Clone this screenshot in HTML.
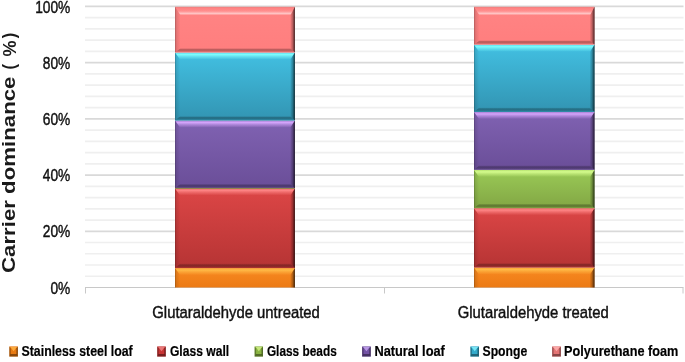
<!DOCTYPE html>
<html><head><meta charset="utf-8"><style>
html,body{margin:0;padding:0;background:#fff;}
svg{display:block;will-change:transform;font-family:"Liberation Sans",sans-serif;}
</style></head><body>
<svg width="685" height="362" viewBox="0 0 685 362">
<defs><linearGradient id="g0" x1="0" y1="0" x2="0" y2="1"><stop offset="0" stop-color="#f88a22"/><stop offset="1" stop-color="#ec7a14"/></linearGradient><linearGradient id="h0" x1="0" y1="268.1" x2="0" y2="275.1" gradientUnits="userSpaceOnUse"><stop offset="0" stop-color="#ffbc48" stop-opacity="0.45"/><stop offset="0.28" stop-color="#ffbc48" stop-opacity="0.95"/><stop offset="0.55" stop-color="#ffbc48" stop-opacity="0.55"/><stop offset="1" stop-color="#ffbc48" stop-opacity="0"/></linearGradient><linearGradient id="l0" x1="175" y1="0" x2="180.0" y2="0" gradientUnits="userSpaceOnUse"><stop offset="0" stop-color="#000" stop-opacity="0.3"/><stop offset="0.3" stop-color="#000" stop-opacity="0.1"/><stop offset="1" stop-color="#000" stop-opacity="0.0"/></linearGradient><linearGradient id="r0" x1="290.4" y1="0" x2="294.9" y2="0" gradientUnits="userSpaceOnUse"><stop offset="0" stop-color="#000" stop-opacity="0.05"/><stop offset="0.45" stop-color="#000" stop-opacity="0.25"/><stop offset="0.8" stop-color="#000" stop-opacity="0.55"/><stop offset="1" stop-color="#000" stop-opacity="0.8"/></linearGradient><linearGradient id="b0" x1="0" y1="287.49" x2="0" y2="287.5" gradientUnits="userSpaceOnUse"><stop offset="0" stop-color="#000" stop-opacity="0.08"/><stop offset="0.3" stop-color="#000" stop-opacity="0.27"/><stop offset="0.6" stop-color="#000" stop-opacity="0.25"/><stop offset="0.8" stop-color="#000" stop-opacity="0.1"/><stop offset="1" stop-color="#000" stop-opacity="0.04"/></linearGradient><linearGradient id="g1" x1="0" y1="0" x2="0" y2="1"><stop offset="0" stop-color="#dc4646"/><stop offset="1" stop-color="#b63434"/></linearGradient><linearGradient id="h1" x1="0" y1="188.4" x2="0" y2="195.4" gradientUnits="userSpaceOnUse"><stop offset="0" stop-color="#ff8888" stop-opacity="0.45"/><stop offset="0.28" stop-color="#ff8888" stop-opacity="0.95"/><stop offset="0.55" stop-color="#ff8888" stop-opacity="0.55"/><stop offset="1" stop-color="#ff8888" stop-opacity="0"/></linearGradient><linearGradient id="l1" x1="175" y1="0" x2="180.0" y2="0" gradientUnits="userSpaceOnUse"><stop offset="0" stop-color="#000" stop-opacity="0.3"/><stop offset="0.3" stop-color="#000" stop-opacity="0.1"/><stop offset="1" stop-color="#000" stop-opacity="0.0"/></linearGradient><linearGradient id="r1" x1="290.4" y1="0" x2="294.9" y2="0" gradientUnits="userSpaceOnUse"><stop offset="0" stop-color="#000" stop-opacity="0.05"/><stop offset="0.45" stop-color="#000" stop-opacity="0.25"/><stop offset="0.8" stop-color="#000" stop-opacity="0.55"/><stop offset="1" stop-color="#000" stop-opacity="0.8"/></linearGradient><linearGradient id="b1" x1="0" y1="263.8" x2="0" y2="268.1" gradientUnits="userSpaceOnUse"><stop offset="0" stop-color="#000" stop-opacity="0.08"/><stop offset="0.3" stop-color="#000" stop-opacity="0.27"/><stop offset="0.6" stop-color="#000" stop-opacity="0.25"/><stop offset="0.8" stop-color="#000" stop-opacity="0.1"/><stop offset="1" stop-color="#000" stop-opacity="0.04"/></linearGradient><linearGradient id="g2" x1="0" y1="0" x2="0" y2="1"><stop offset="0" stop-color="#8062b2"/><stop offset="1" stop-color="#6a4e98"/></linearGradient><linearGradient id="h2" x1="0" y1="120.6" x2="0" y2="127.6" gradientUnits="userSpaceOnUse"><stop offset="0" stop-color="#d8a8ff" stop-opacity="0.45"/><stop offset="0.28" stop-color="#d8a8ff" stop-opacity="0.95"/><stop offset="0.55" stop-color="#d8a8ff" stop-opacity="0.55"/><stop offset="1" stop-color="#d8a8ff" stop-opacity="0"/></linearGradient><linearGradient id="l2" x1="175" y1="0" x2="180.0" y2="0" gradientUnits="userSpaceOnUse"><stop offset="0" stop-color="#000" stop-opacity="0.3"/><stop offset="0.3" stop-color="#000" stop-opacity="0.1"/><stop offset="1" stop-color="#000" stop-opacity="0.0"/></linearGradient><linearGradient id="r2" x1="290.4" y1="0" x2="294.9" y2="0" gradientUnits="userSpaceOnUse"><stop offset="0" stop-color="#000" stop-opacity="0.05"/><stop offset="0.45" stop-color="#000" stop-opacity="0.25"/><stop offset="0.8" stop-color="#000" stop-opacity="0.55"/><stop offset="1" stop-color="#000" stop-opacity="0.8"/></linearGradient><linearGradient id="b2" x1="0" y1="184.1" x2="0" y2="188.4" gradientUnits="userSpaceOnUse"><stop offset="0" stop-color="#000" stop-opacity="0.08"/><stop offset="0.3" stop-color="#000" stop-opacity="0.27"/><stop offset="0.6" stop-color="#000" stop-opacity="0.25"/><stop offset="0.8" stop-color="#000" stop-opacity="0.1"/><stop offset="1" stop-color="#000" stop-opacity="0.04"/></linearGradient><linearGradient id="g3" x1="0" y1="0" x2="0" y2="1"><stop offset="0" stop-color="#42c0e2"/><stop offset="1" stop-color="#3294b2"/></linearGradient><linearGradient id="h3" x1="0" y1="52.6" x2="0" y2="59.6" gradientUnits="userSpaceOnUse"><stop offset="0" stop-color="#80ffff" stop-opacity="0.45"/><stop offset="0.28" stop-color="#80ffff" stop-opacity="0.95"/><stop offset="0.55" stop-color="#80ffff" stop-opacity="0.55"/><stop offset="1" stop-color="#80ffff" stop-opacity="0"/></linearGradient><linearGradient id="l3" x1="175" y1="0" x2="180.0" y2="0" gradientUnits="userSpaceOnUse"><stop offset="0" stop-color="#000" stop-opacity="0.3"/><stop offset="0.3" stop-color="#000" stop-opacity="0.1"/><stop offset="1" stop-color="#000" stop-opacity="0.0"/></linearGradient><linearGradient id="r3" x1="290.4" y1="0" x2="294.9" y2="0" gradientUnits="userSpaceOnUse"><stop offset="0" stop-color="#000" stop-opacity="0.05"/><stop offset="0.45" stop-color="#000" stop-opacity="0.25"/><stop offset="0.8" stop-color="#000" stop-opacity="0.55"/><stop offset="1" stop-color="#000" stop-opacity="0.8"/></linearGradient><linearGradient id="b3" x1="0" y1="116.3" x2="0" y2="120.6" gradientUnits="userSpaceOnUse"><stop offset="0" stop-color="#000" stop-opacity="0.08"/><stop offset="0.3" stop-color="#000" stop-opacity="0.27"/><stop offset="0.6" stop-color="#000" stop-opacity="0.25"/><stop offset="0.8" stop-color="#000" stop-opacity="0.1"/><stop offset="1" stop-color="#000" stop-opacity="0.04"/></linearGradient><linearGradient id="g4" x1="0" y1="0" x2="0" y2="1"><stop offset="0" stop-color="#ff8484"/><stop offset="1" stop-color="#ff7e7e"/></linearGradient><linearGradient id="h4" x1="0" y1="6.8" x2="0" y2="15.3" gradientUnits="userSpaceOnUse"><stop offset="0" stop-color="#000" stop-opacity="0.12"/><stop offset="0.2" stop-color="#ffcccc" stop-opacity="0"/><stop offset="0.5" stop-color="#ffcccc" stop-opacity="0.15"/><stop offset="0.8" stop-color="#ffcccc" stop-opacity="0.9"/><stop offset="1" stop-color="#ffcccc" stop-opacity="0"/></linearGradient><linearGradient id="l4" x1="175" y1="0" x2="180.5" y2="0" gradientUnits="userSpaceOnUse"><stop offset="0" stop-color="#000" stop-opacity="0.3"/><stop offset="0.3" stop-color="#000" stop-opacity="0.1"/><stop offset="1" stop-color="#000" stop-opacity="0.0"/></linearGradient><linearGradient id="r4" x1="290.4" y1="0" x2="294.9" y2="0" gradientUnits="userSpaceOnUse"><stop offset="0" stop-color="#000" stop-opacity="0.05"/><stop offset="0.45" stop-color="#000" stop-opacity="0.25"/><stop offset="0.8" stop-color="#000" stop-opacity="0.55"/><stop offset="1" stop-color="#000" stop-opacity="0.8"/></linearGradient><linearGradient id="b4" x1="0" y1="48.300000000000004" x2="0" y2="52.6" gradientUnits="userSpaceOnUse"><stop offset="0" stop-color="#000" stop-opacity="0.08"/><stop offset="0.3" stop-color="#000" stop-opacity="0.27"/><stop offset="0.6" stop-color="#000" stop-opacity="0.25"/><stop offset="0.8" stop-color="#000" stop-opacity="0.1"/><stop offset="1" stop-color="#000" stop-opacity="0.04"/></linearGradient><linearGradient id="g5" x1="0" y1="0" x2="0" y2="1"><stop offset="0" stop-color="#f88a22"/><stop offset="1" stop-color="#ec7a14"/></linearGradient><linearGradient id="h5" x1="0" y1="267.6" x2="0" y2="274.6" gradientUnits="userSpaceOnUse"><stop offset="0" stop-color="#ffbc48" stop-opacity="0.45"/><stop offset="0.28" stop-color="#ffbc48" stop-opacity="0.95"/><stop offset="0.55" stop-color="#ffbc48" stop-opacity="0.55"/><stop offset="1" stop-color="#ffbc48" stop-opacity="0"/></linearGradient><linearGradient id="l5" x1="474" y1="0" x2="479.0" y2="0" gradientUnits="userSpaceOnUse"><stop offset="0" stop-color="#000" stop-opacity="0.3"/><stop offset="0.3" stop-color="#000" stop-opacity="0.1"/><stop offset="1" stop-color="#000" stop-opacity="0.0"/></linearGradient><linearGradient id="r5" x1="590.0" y1="0" x2="594.5" y2="0" gradientUnits="userSpaceOnUse"><stop offset="0" stop-color="#000" stop-opacity="0.05"/><stop offset="0.45" stop-color="#000" stop-opacity="0.25"/><stop offset="0.8" stop-color="#000" stop-opacity="0.55"/><stop offset="1" stop-color="#000" stop-opacity="0.8"/></linearGradient><linearGradient id="b5" x1="0" y1="287.49" x2="0" y2="287.5" gradientUnits="userSpaceOnUse"><stop offset="0" stop-color="#000" stop-opacity="0.08"/><stop offset="0.3" stop-color="#000" stop-opacity="0.27"/><stop offset="0.6" stop-color="#000" stop-opacity="0.25"/><stop offset="0.8" stop-color="#000" stop-opacity="0.1"/><stop offset="1" stop-color="#000" stop-opacity="0.04"/></linearGradient><linearGradient id="g6" x1="0" y1="0" x2="0" y2="1"><stop offset="0" stop-color="#dc4646"/><stop offset="1" stop-color="#b63434"/></linearGradient><linearGradient id="h6" x1="0" y1="208.2" x2="0" y2="215.2" gradientUnits="userSpaceOnUse"><stop offset="0" stop-color="#ff8888" stop-opacity="0.45"/><stop offset="0.28" stop-color="#ff8888" stop-opacity="0.95"/><stop offset="0.55" stop-color="#ff8888" stop-opacity="0.55"/><stop offset="1" stop-color="#ff8888" stop-opacity="0"/></linearGradient><linearGradient id="l6" x1="474" y1="0" x2="479.0" y2="0" gradientUnits="userSpaceOnUse"><stop offset="0" stop-color="#000" stop-opacity="0.3"/><stop offset="0.3" stop-color="#000" stop-opacity="0.1"/><stop offset="1" stop-color="#000" stop-opacity="0.0"/></linearGradient><linearGradient id="r6" x1="590.0" y1="0" x2="594.5" y2="0" gradientUnits="userSpaceOnUse"><stop offset="0" stop-color="#000" stop-opacity="0.05"/><stop offset="0.45" stop-color="#000" stop-opacity="0.25"/><stop offset="0.8" stop-color="#000" stop-opacity="0.55"/><stop offset="1" stop-color="#000" stop-opacity="0.8"/></linearGradient><linearGradient id="b6" x1="0" y1="263.3" x2="0" y2="267.6" gradientUnits="userSpaceOnUse"><stop offset="0" stop-color="#000" stop-opacity="0.08"/><stop offset="0.3" stop-color="#000" stop-opacity="0.27"/><stop offset="0.6" stop-color="#000" stop-opacity="0.25"/><stop offset="0.8" stop-color="#000" stop-opacity="0.1"/><stop offset="1" stop-color="#000" stop-opacity="0.04"/></linearGradient><linearGradient id="g7" x1="0" y1="0" x2="0" y2="1"><stop offset="0" stop-color="#9aca56"/><stop offset="1" stop-color="#82a644"/></linearGradient><linearGradient id="h7" x1="0" y1="169.9" x2="0" y2="176.9" gradientUnits="userSpaceOnUse"><stop offset="0" stop-color="#d8ff90" stop-opacity="0.45"/><stop offset="0.28" stop-color="#d8ff90" stop-opacity="0.95"/><stop offset="0.55" stop-color="#d8ff90" stop-opacity="0.55"/><stop offset="1" stop-color="#d8ff90" stop-opacity="0"/></linearGradient><linearGradient id="l7" x1="474" y1="0" x2="479.0" y2="0" gradientUnits="userSpaceOnUse"><stop offset="0" stop-color="#000" stop-opacity="0.3"/><stop offset="0.3" stop-color="#000" stop-opacity="0.1"/><stop offset="1" stop-color="#000" stop-opacity="0.0"/></linearGradient><linearGradient id="r7" x1="590.0" y1="0" x2="594.5" y2="0" gradientUnits="userSpaceOnUse"><stop offset="0" stop-color="#000" stop-opacity="0.05"/><stop offset="0.45" stop-color="#000" stop-opacity="0.25"/><stop offset="0.8" stop-color="#000" stop-opacity="0.55"/><stop offset="1" stop-color="#000" stop-opacity="0.8"/></linearGradient><linearGradient id="b7" x1="0" y1="203.89999999999998" x2="0" y2="208.2" gradientUnits="userSpaceOnUse"><stop offset="0" stop-color="#000" stop-opacity="0.08"/><stop offset="0.3" stop-color="#000" stop-opacity="0.27"/><stop offset="0.6" stop-color="#000" stop-opacity="0.25"/><stop offset="0.8" stop-color="#000" stop-opacity="0.1"/><stop offset="1" stop-color="#000" stop-opacity="0.04"/></linearGradient><linearGradient id="g8" x1="0" y1="0" x2="0" y2="1"><stop offset="0" stop-color="#8062b2"/><stop offset="1" stop-color="#6a4e98"/></linearGradient><linearGradient id="h8" x1="0" y1="112.0" x2="0" y2="119.0" gradientUnits="userSpaceOnUse"><stop offset="0" stop-color="#d8a8ff" stop-opacity="0.45"/><stop offset="0.28" stop-color="#d8a8ff" stop-opacity="0.95"/><stop offset="0.55" stop-color="#d8a8ff" stop-opacity="0.55"/><stop offset="1" stop-color="#d8a8ff" stop-opacity="0"/></linearGradient><linearGradient id="l8" x1="474" y1="0" x2="479.0" y2="0" gradientUnits="userSpaceOnUse"><stop offset="0" stop-color="#000" stop-opacity="0.3"/><stop offset="0.3" stop-color="#000" stop-opacity="0.1"/><stop offset="1" stop-color="#000" stop-opacity="0.0"/></linearGradient><linearGradient id="r8" x1="590.0" y1="0" x2="594.5" y2="0" gradientUnits="userSpaceOnUse"><stop offset="0" stop-color="#000" stop-opacity="0.05"/><stop offset="0.45" stop-color="#000" stop-opacity="0.25"/><stop offset="0.8" stop-color="#000" stop-opacity="0.55"/><stop offset="1" stop-color="#000" stop-opacity="0.8"/></linearGradient><linearGradient id="b8" x1="0" y1="165.6" x2="0" y2="169.9" gradientUnits="userSpaceOnUse"><stop offset="0" stop-color="#000" stop-opacity="0.08"/><stop offset="0.3" stop-color="#000" stop-opacity="0.27"/><stop offset="0.6" stop-color="#000" stop-opacity="0.25"/><stop offset="0.8" stop-color="#000" stop-opacity="0.1"/><stop offset="1" stop-color="#000" stop-opacity="0.04"/></linearGradient><linearGradient id="g9" x1="0" y1="0" x2="0" y2="1"><stop offset="0" stop-color="#42c0e2"/><stop offset="1" stop-color="#3294b2"/></linearGradient><linearGradient id="h9" x1="0" y1="44.7" x2="0" y2="51.7" gradientUnits="userSpaceOnUse"><stop offset="0" stop-color="#80ffff" stop-opacity="0.45"/><stop offset="0.28" stop-color="#80ffff" stop-opacity="0.95"/><stop offset="0.55" stop-color="#80ffff" stop-opacity="0.55"/><stop offset="1" stop-color="#80ffff" stop-opacity="0"/></linearGradient><linearGradient id="l9" x1="474" y1="0" x2="479.0" y2="0" gradientUnits="userSpaceOnUse"><stop offset="0" stop-color="#000" stop-opacity="0.3"/><stop offset="0.3" stop-color="#000" stop-opacity="0.1"/><stop offset="1" stop-color="#000" stop-opacity="0.0"/></linearGradient><linearGradient id="r9" x1="590.0" y1="0" x2="594.5" y2="0" gradientUnits="userSpaceOnUse"><stop offset="0" stop-color="#000" stop-opacity="0.05"/><stop offset="0.45" stop-color="#000" stop-opacity="0.25"/><stop offset="0.8" stop-color="#000" stop-opacity="0.55"/><stop offset="1" stop-color="#000" stop-opacity="0.8"/></linearGradient><linearGradient id="b9" x1="0" y1="107.7" x2="0" y2="112.0" gradientUnits="userSpaceOnUse"><stop offset="0" stop-color="#000" stop-opacity="0.08"/><stop offset="0.3" stop-color="#000" stop-opacity="0.27"/><stop offset="0.6" stop-color="#000" stop-opacity="0.25"/><stop offset="0.8" stop-color="#000" stop-opacity="0.1"/><stop offset="1" stop-color="#000" stop-opacity="0.04"/></linearGradient><linearGradient id="g10" x1="0" y1="0" x2="0" y2="1"><stop offset="0" stop-color="#ff8484"/><stop offset="1" stop-color="#ff7e7e"/></linearGradient><linearGradient id="h10" x1="0" y1="6.8" x2="0" y2="15.3" gradientUnits="userSpaceOnUse"><stop offset="0" stop-color="#000" stop-opacity="0.12"/><stop offset="0.2" stop-color="#ffcccc" stop-opacity="0"/><stop offset="0.5" stop-color="#ffcccc" stop-opacity="0.15"/><stop offset="0.8" stop-color="#ffcccc" stop-opacity="0.9"/><stop offset="1" stop-color="#ffcccc" stop-opacity="0"/></linearGradient><linearGradient id="l10" x1="474" y1="0" x2="479.5" y2="0" gradientUnits="userSpaceOnUse"><stop offset="0" stop-color="#000" stop-opacity="0.3"/><stop offset="0.3" stop-color="#000" stop-opacity="0.1"/><stop offset="1" stop-color="#000" stop-opacity="0.0"/></linearGradient><linearGradient id="r10" x1="590.0" y1="0" x2="594.5" y2="0" gradientUnits="userSpaceOnUse"><stop offset="0" stop-color="#000" stop-opacity="0.05"/><stop offset="0.45" stop-color="#000" stop-opacity="0.25"/><stop offset="0.8" stop-color="#000" stop-opacity="0.55"/><stop offset="1" stop-color="#000" stop-opacity="0.8"/></linearGradient><linearGradient id="b10" x1="0" y1="40.400000000000006" x2="0" y2="44.7" gradientUnits="userSpaceOnUse"><stop offset="0" stop-color="#000" stop-opacity="0.08"/><stop offset="0.3" stop-color="#000" stop-opacity="0.27"/><stop offset="0.6" stop-color="#000" stop-opacity="0.25"/><stop offset="0.8" stop-color="#000" stop-opacity="0.1"/><stop offset="1" stop-color="#000" stop-opacity="0.04"/></linearGradient></defs>
<rect width="685" height="362" fill="#fff"/>
<line x1="85" x2="683.5" y1="276.26" y2="276.26" stroke="#efefef" stroke-width="1.7"/><line x1="85" x2="683.5" y1="265.01" y2="265.01" stroke="#efefef" stroke-width="1.7"/><line x1="85" x2="683.5" y1="253.77" y2="253.77" stroke="#efefef" stroke-width="1.7"/><line x1="85" x2="683.5" y1="242.52" y2="242.52" stroke="#efefef" stroke-width="1.7"/><line x1="85" x2="683.5" y1="231.28" y2="231.28" stroke="#d9d9d9" stroke-width="1.7"/><line x1="85" x2="683.5" y1="220.04" y2="220.04" stroke="#efefef" stroke-width="1.7"/><line x1="85" x2="683.5" y1="208.79" y2="208.79" stroke="#efefef" stroke-width="1.7"/><line x1="85" x2="683.5" y1="197.55" y2="197.55" stroke="#efefef" stroke-width="1.7"/><line x1="85" x2="683.5" y1="186.30" y2="186.30" stroke="#efefef" stroke-width="1.7"/><line x1="85" x2="683.5" y1="175.06" y2="175.06" stroke="#d9d9d9" stroke-width="1.7"/><line x1="85" x2="683.5" y1="163.82" y2="163.82" stroke="#efefef" stroke-width="1.7"/><line x1="85" x2="683.5" y1="152.57" y2="152.57" stroke="#efefef" stroke-width="1.7"/><line x1="85" x2="683.5" y1="141.33" y2="141.33" stroke="#efefef" stroke-width="1.7"/><line x1="85" x2="683.5" y1="130.08" y2="130.08" stroke="#efefef" stroke-width="1.7"/><line x1="85" x2="683.5" y1="118.84" y2="118.84" stroke="#d9d9d9" stroke-width="1.7"/><line x1="85" x2="683.5" y1="107.60" y2="107.60" stroke="#efefef" stroke-width="1.7"/><line x1="85" x2="683.5" y1="96.35" y2="96.35" stroke="#efefef" stroke-width="1.7"/><line x1="85" x2="683.5" y1="85.11" y2="85.11" stroke="#efefef" stroke-width="1.7"/><line x1="85" x2="683.5" y1="73.86" y2="73.86" stroke="#efefef" stroke-width="1.7"/><line x1="85" x2="683.5" y1="62.62" y2="62.62" stroke="#d9d9d9" stroke-width="1.7"/><line x1="85" x2="683.5" y1="51.38" y2="51.38" stroke="#efefef" stroke-width="1.7"/><line x1="85" x2="683.5" y1="40.13" y2="40.13" stroke="#efefef" stroke-width="1.7"/><line x1="85" x2="683.5" y1="28.89" y2="28.89" stroke="#efefef" stroke-width="1.7"/><line x1="85" x2="683.5" y1="17.64" y2="17.64" stroke="#efefef" stroke-width="1.7"/><line x1="85" x2="683.5" y1="6.40" y2="6.40" stroke="#d9d9d9" stroke-width="1.7"/>
<line x1="85" x2="683.5" y1="287.5" y2="287.5" stroke="#c8c8c8" stroke-width="1"/><line x1="85.5" x2="85.5" y1="287.5" y2="293.5" stroke="#c8c8c8" stroke-width="1"/><line x1="384.5" x2="384.5" y1="287.5" y2="293.5" stroke="#c8c8c8" stroke-width="1"/><line x1="683" x2="683" y1="287.5" y2="293.5" stroke="#c8c8c8" stroke-width="1"/>
<rect x="175" y="268.1" width="119.89999999999998" height="19.399999999999977" fill="url(#g0)"/><polygon points="175,268.1 294.9,268.1 290.4,275.1 180.0,275.1" fill="url(#h0)"/><polygon points="175,268.1 180.0,275.1 180.0,287.49 175,287.5" fill="url(#l0)"/><polygon points="294.9,268.1 294.9,287.5 290.4,287.49 290.4,275.1" fill="url(#r0)"/><polygon points="175,287.5 294.9,287.5 290.4,287.49 180.0,287.49" fill="url(#b0)"/><rect x="175" y="188.4" width="119.89999999999998" height="79.70000000000002" fill="url(#g1)"/><polygon points="175,188.4 294.9,188.4 290.4,195.4 180.0,195.4" fill="url(#h1)"/><polygon points="175,188.4 180.0,195.4 180.0,263.8 175,268.1" fill="url(#l1)"/><polygon points="294.9,188.4 294.9,268.1 290.4,263.8 290.4,195.4" fill="url(#r1)"/><polygon points="175,268.1 294.9,268.1 290.4,263.8 180.0,263.8" fill="url(#b1)"/><rect x="175" y="120.6" width="119.89999999999998" height="67.80000000000001" fill="url(#g2)"/><polygon points="175,120.6 294.9,120.6 290.4,127.6 180.0,127.6" fill="url(#h2)"/><polygon points="175,120.6 180.0,127.6 180.0,184.1 175,188.4" fill="url(#l2)"/><polygon points="294.9,120.6 294.9,188.4 290.4,184.1 290.4,127.6" fill="url(#r2)"/><polygon points="175,188.4 294.9,188.4 290.4,184.1 180.0,184.1" fill="url(#b2)"/><rect x="175" y="52.6" width="119.89999999999998" height="68.0" fill="url(#g3)"/><polygon points="175,52.6 294.9,52.6 290.4,59.6 180.0,59.6" fill="url(#h3)"/><polygon points="175,52.6 180.0,59.6 180.0,116.3 175,120.6" fill="url(#l3)"/><polygon points="294.9,52.6 294.9,120.6 290.4,116.3 290.4,59.6" fill="url(#r3)"/><polygon points="175,120.6 294.9,120.6 290.4,116.3 180.0,116.3" fill="url(#b3)"/><rect x="175" y="6.8" width="119.89999999999998" height="45.800000000000004" fill="url(#g4)"/><polygon points="175,6.8 294.9,6.8 290.4,15.3 180.5,15.3" fill="url(#h4)"/><polygon points="175,6.8 180.5,15.3 180.5,48.300000000000004 175,52.6" fill="url(#l4)"/><polygon points="294.9,6.8 294.9,52.6 290.4,48.300000000000004 290.4,15.3" fill="url(#r4)"/><polygon points="175,52.6 294.9,52.6 290.4,48.300000000000004 180.5,48.300000000000004" fill="url(#b4)"/><rect x="474" y="267.6" width="120.5" height="19.899999999999977" fill="url(#g5)"/><polygon points="474,267.6 594.5,267.6 590.0,274.6 479.0,274.6" fill="url(#h5)"/><polygon points="474,267.6 479.0,274.6 479.0,287.49 474,287.5" fill="url(#l5)"/><polygon points="594.5,267.6 594.5,287.5 590.0,287.49 590.0,274.6" fill="url(#r5)"/><polygon points="474,287.5 594.5,287.5 590.0,287.49 479.0,287.49" fill="url(#b5)"/><rect x="474" y="208.2" width="120.5" height="59.400000000000034" fill="url(#g6)"/><polygon points="474,208.2 594.5,208.2 590.0,215.2 479.0,215.2" fill="url(#h6)"/><polygon points="474,208.2 479.0,215.2 479.0,263.3 474,267.6" fill="url(#l6)"/><polygon points="594.5,208.2 594.5,267.6 590.0,263.3 590.0,215.2" fill="url(#r6)"/><polygon points="474,267.6 594.5,267.6 590.0,263.3 479.0,263.3" fill="url(#b6)"/><rect x="474" y="169.9" width="120.5" height="38.29999999999998" fill="url(#g7)"/><polygon points="474,169.9 594.5,169.9 590.0,176.9 479.0,176.9" fill="url(#h7)"/><polygon points="474,169.9 479.0,176.9 479.0,203.89999999999998 474,208.2" fill="url(#l7)"/><polygon points="594.5,169.9 594.5,208.2 590.0,203.89999999999998 590.0,176.9" fill="url(#r7)"/><polygon points="474,208.2 594.5,208.2 590.0,203.89999999999998 479.0,203.89999999999998" fill="url(#b7)"/><rect x="474" y="112.0" width="120.5" height="57.900000000000006" fill="url(#g8)"/><polygon points="474,112.0 594.5,112.0 590.0,119.0 479.0,119.0" fill="url(#h8)"/><polygon points="474,112.0 479.0,119.0 479.0,165.6 474,169.9" fill="url(#l8)"/><polygon points="594.5,112.0 594.5,169.9 590.0,165.6 590.0,119.0" fill="url(#r8)"/><polygon points="474,169.9 594.5,169.9 590.0,165.6 479.0,165.6" fill="url(#b8)"/><rect x="474" y="44.7" width="120.5" height="67.3" fill="url(#g9)"/><polygon points="474,44.7 594.5,44.7 590.0,51.7 479.0,51.7" fill="url(#h9)"/><polygon points="474,44.7 479.0,51.7 479.0,107.7 474,112.0" fill="url(#l9)"/><polygon points="594.5,44.7 594.5,112.0 590.0,107.7 590.0,51.7" fill="url(#r9)"/><polygon points="474,112.0 594.5,112.0 590.0,107.7 479.0,107.7" fill="url(#b9)"/><rect x="474" y="6.8" width="120.5" height="37.900000000000006" fill="url(#g10)"/><polygon points="474,6.8 594.5,6.8 590.0,15.3 479.5,15.3" fill="url(#h10)"/><polygon points="474,6.8 479.5,15.3 479.5,40.400000000000006 474,44.7" fill="url(#l10)"/><polygon points="594.5,6.8 594.5,44.7 590.0,40.400000000000006 590.0,15.3" fill="url(#r10)"/><polygon points="474,44.7 594.5,44.7 590.0,40.400000000000006 479.5,40.400000000000006" fill="url(#b10)"/><rect x="175" y="187.9" width="119.5" height="0.9" fill="#8a8c3c"/>
<text x="0" y="0" transform="translate(70.3 293.70) scale(0.795 1)" text-anchor="end" font-size="17.3" fill="#111" stroke="#111" stroke-width="0.45">0%</text><text x="0" y="0" transform="translate(70.3 237.48) scale(0.795 1)" text-anchor="end" font-size="17.3" fill="#111" stroke="#111" stroke-width="0.45">20%</text><text x="0" y="0" transform="translate(70.3 181.26) scale(0.795 1)" text-anchor="end" font-size="17.3" fill="#111" stroke="#111" stroke-width="0.45">40%</text><text x="0" y="0" transform="translate(70.3 125.04) scale(0.795 1)" text-anchor="end" font-size="17.3" fill="#111" stroke="#111" stroke-width="0.45">60%</text><text x="0" y="0" transform="translate(70.3 68.82) scale(0.795 1)" text-anchor="end" font-size="17.3" fill="#111" stroke="#111" stroke-width="0.45">80%</text><text x="0" y="0" transform="translate(70.3 12.60) scale(0.795 1)" text-anchor="end" font-size="17.3" fill="#111" stroke="#111" stroke-width="0.45">100%</text>
<text x="152.3" y="317.7" font-size="17.2" textLength="167.5" lengthAdjust="spacingAndGlyphs" fill="#111" stroke="#111" stroke-width="0.45">Glutaraldehyde untreated</text>
<text x="457.7" y="317.7" font-size="17.2" textLength="151" lengthAdjust="spacingAndGlyphs" fill="#111" stroke="#111" stroke-width="0.45">Glutaraldehyde treated</text>
<text transform="translate(15.4 273.0) rotate(-90)" x="0" y="0" font-size="18" font-weight="bold" textLength="196.5" lengthAdjust="spacingAndGlyphs" fill="#1a1a1a">Carrier dominance</text><text transform="translate(14.8 69.6) rotate(-90)" x="0" y="0" font-size="18.8" font-weight="bold" textLength="5.5" lengthAdjust="spacingAndGlyphs" fill="#1a1a1a">(</text><text transform="translate(15.6 56.6) rotate(-90)" x="0" y="0" font-size="18.2" font-weight="bold" textLength="16.0" lengthAdjust="spacingAndGlyphs" fill="#1a1a1a">%</text><text transform="translate(14.8 38.3) rotate(-90)" x="0" y="0" font-size="18.8" font-weight="bold" textLength="5.5" lengthAdjust="spacingAndGlyphs" fill="#1a1a1a">)</text>
<rect x="9.3" y="346.4" width="8.6" height="10.2" fill="#e87a12"/><polygon points="10.3,346.9 16.9,346.9 13.6,351.2" fill="#ffb848" fill-opacity="0.8"/><polygon points="9.3,346.4 10.8,348.4 10.8,354.6 9.3,356.6" fill="#000" fill-opacity="0.3"/><polygon points="17.9,346.4 16.4,348.4 16.4,354.6 17.9,356.6" fill="#000" fill-opacity="0.4"/><polygon points="9.3,356.6 17.9,356.6 16.4,354.1 10.8,354.1" fill="#000" fill-opacity="0.4"/><text x="21.5" y="356.2" font-size="15.3" font-weight="bold" textLength="111.2" lengthAdjust="spacingAndGlyphs" fill="#000" stroke="#000" stroke-width="0.2">Stainless steel loaf</text><rect x="157.2" y="346.4" width="8.6" height="10.2" fill="#c83434"/><polygon points="158.2,346.9 164.8,346.9 161.5,351.2" fill="#f08a8a" fill-opacity="0.8"/><polygon points="157.2,346.4 158.7,348.4 158.7,354.6 157.2,356.6" fill="#000" fill-opacity="0.3"/><polygon points="165.8,346.4 164.3,348.4 164.3,354.6 165.8,356.6" fill="#000" fill-opacity="0.4"/><polygon points="157.2,356.6 165.8,356.6 164.3,354.1 158.7,354.1" fill="#000" fill-opacity="0.4"/><text x="169.9" y="356.2" font-size="15.3" font-weight="bold" textLength="59.3" lengthAdjust="spacingAndGlyphs" fill="#000" stroke="#000" stroke-width="0.2">Glass wall</text><rect x="254.6" y="346.4" width="8.4" height="10.2" fill="#8ab442"/><polygon points="255.6,346.9 262.0,346.9 258.8,351.2" fill="#d4f48a" fill-opacity="0.8"/><polygon points="254.6,346.4 256.1,348.4 256.1,354.6 254.6,356.6" fill="#000" fill-opacity="0.3"/><polygon points="263.0,346.4 261.5,348.4 261.5,354.6 263.0,356.6" fill="#000" fill-opacity="0.4"/><polygon points="254.6,356.6 263.0,356.6 261.5,354.1 256.1,354.1" fill="#000" fill-opacity="0.4"/><text x="266.9" y="356.2" font-size="15.3" font-weight="bold" textLength="69.9" lengthAdjust="spacingAndGlyphs" fill="#000" stroke="#000" stroke-width="0.2">Glass beads</text><rect x="362.1" y="346.4" width="8.7" height="10.2" fill="#7352a4"/><polygon points="363.1,346.9 369.8,346.9 366.45000000000005,351.2" fill="#c8a8f4" fill-opacity="0.8"/><polygon points="362.1,346.4 363.6,348.4 363.6,354.6 362.1,356.6" fill="#000" fill-opacity="0.3"/><polygon points="370.8,346.4 369.3,348.4 369.3,354.6 370.8,356.6" fill="#000" fill-opacity="0.4"/><polygon points="362.1,356.6 370.8,356.6 369.3,354.1 363.6,354.1" fill="#000" fill-opacity="0.4"/><text x="374.4" y="356.2" font-size="15.3" font-weight="bold" textLength="70.5" lengthAdjust="spacingAndGlyphs" fill="#000" stroke="#000" stroke-width="0.2">Natural loaf</text><rect x="470.4" y="346.4" width="8.6" height="10.2" fill="#32aacb"/><polygon points="471.4,346.9 478.0,346.9 474.7,351.2" fill="#88f4ff" fill-opacity="0.8"/><polygon points="470.4,346.4 471.9,348.4 471.9,354.6 470.4,356.6" fill="#000" fill-opacity="0.3"/><polygon points="479.0,346.4 477.5,348.4 477.5,354.6 479.0,356.6" fill="#000" fill-opacity="0.4"/><polygon points="470.4,356.6 479.0,356.6 477.5,354.1 471.9,354.1" fill="#000" fill-opacity="0.4"/><text x="482.5" y="356.2" font-size="15.3" font-weight="bold" textLength="44.7" lengthAdjust="spacingAndGlyphs" fill="#000" stroke="#000" stroke-width="0.2">Sponge</text><rect x="552.1" y="346.4" width="8.8" height="10.2" fill="#e47474"/><polygon points="553.1,346.9 559.9,346.9 556.5,351.2" fill="#ffb4b4" fill-opacity="0.8"/><polygon points="552.1,346.4 553.6,348.4 553.6,354.6 552.1,356.6" fill="#000" fill-opacity="0.3"/><polygon points="560.9,346.4 559.4,348.4 559.4,354.6 560.9,356.6" fill="#000" fill-opacity="0.4"/><polygon points="552.1,356.6 560.9,356.6 559.4,354.1 553.6,354.1" fill="#000" fill-opacity="0.4"/><text x="564.1" y="356.2" font-size="15.3" font-weight="bold" textLength="114.2" lengthAdjust="spacingAndGlyphs" fill="#000" stroke="#000" stroke-width="0.2">Polyurethane foam</text>
</svg>
</body></html>
